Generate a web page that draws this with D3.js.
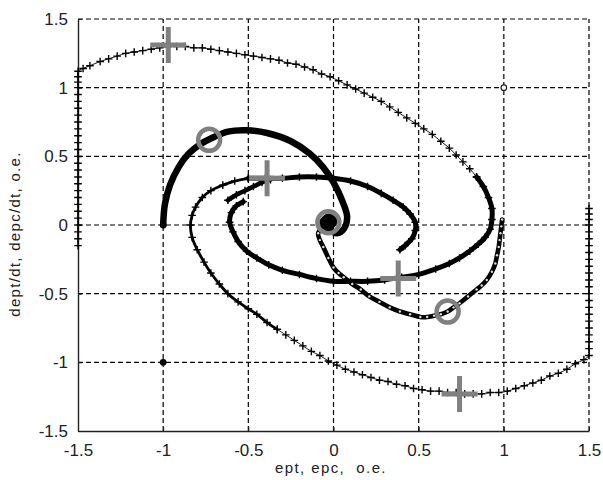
<!DOCTYPE html>
<html>
<head>
<meta charset="utf-8">
<script src="https://cdn.jsdelivr.net/npm/d3@7"></script>
<style>
  body { margin: 0; background: #fff; }
  svg { display: block; font-family: "Liberation Sans", Arial, sans-serif; }
</style>
</head>
<body>
<svg id="graph"></svg>
<script>

// Graduations des axes
const ticksX = [-1.5, -1, -0.5, 0, 0.5, 1, 1.5];
const ticksY = [-1.5, -1, -0.5, 0, 0.5, 1, 1.5];
const labelsX = ["-1.5", "-1", "-0.5", "0", "0.5", "1", "1.5"];
const labelsY = ["-1.5", "-1", "-0.5", "0", "0.5", "1", "1.5"];

// Trajectoire "+" partant du bord gauche (partie extérieure, peu dense)
const plusC_ext = [
  [-1.5, -0.15], [-1.5, -0.1], [-1.5, -0.05], [-1.5, 0], [-1.5, 0.05], [-1.5, 0.1], [-1.5, 0.15],
  [-1.5, 0.2], [-1.5, 0.25], [-1.5, 0.3], [-1.5, 0.35], [-1.5, 0.4], [-1.5, 0.45], [-1.5, 0.5],
  [-1.5, 0.55], [-1.5, 0.6], [-1.5, 0.65], [-1.5, 0.7], [-1.5, 0.75], [-1.5, 0.8], [-1.5, 0.85],
  [-1.5, 0.9], [-1.5, 0.95], [-1.5, 1.0], [-1.5, 1.04], [-1.5, 1.08], [-1.5, 1.12],
  [-1.47, 1.14], [-1.43, 1.16], [-1.37, 1.19], [-1.32, 1.21], [-1.27, 1.23], [-1.22, 1.25],
  [-1.17, 1.26], [-1.12, 1.27], [-1.07, 1.28], [-1.02, 1.29], [-0.97, 1.3], [-0.92, 1.3],
  [-0.87, 1.3], [-0.82, 1.29], [-0.77, 1.29], [-0.72, 1.28], [-0.67, 1.27], [-0.62, 1.26],
  [-0.57, 1.25], [-0.52, 1.24], [-0.47, 1.23], [-0.42, 1.22], [-0.37, 1.21], [-0.32, 1.2],
  [-0.27, 1.18], [-0.22, 1.17], [-0.17, 1.15], [-0.12, 1.13], [-0.07, 1.1], [-0.02, 1.08],
  [0.03, 1.05], [0.08, 1.02], [0.13, 0.99], [0.18, 0.96], [0.23, 0.93], [0.28, 0.9],
  [0.33, 0.86], [0.38, 0.82], [0.43, 0.78], [0.48, 0.74], [0.53, 0.7], [0.58, 0.66],
  [0.63, 0.61], [0.68, 0.56], [0.72, 0.51], [0.76, 0.46], [0.8, 0.41], [0.84, 0.35]
];

// Suite de la même trajectoire (partie intérieure, dense)
const plusC_int = [
  [0.84, 0.35], [0.88, 0.28], [0.91, 0.2], [0.93, 0.12], [0.93, 0.04], [0.92, -0.03],
  [0.89, -0.09], [0.85, -0.14], [0.8, -0.19], [0.74, -0.24], [0.68, -0.28], [0.6, -0.32],
  [0.5, -0.36], [0.4, -0.38], [0.3, -0.4], [0.2, -0.41], [0.1, -0.41], [0, -0.41],
  [-0.1, -0.39], [-0.2, -0.36], [-0.3, -0.33], [-0.38, -0.29], [-0.45, -0.24], [-0.51, -0.19],
  [-0.56, -0.12], [-0.59, -0.05], [-0.61, 0.02], [-0.6, 0.09], [-0.57, 0.14], [-0.53, 0.17]
];

// Petit morceau isolé
const plusC_bout = [
  [-0.62, 0.18], [-0.57, 0.22], [-0.52, 0.25], [-0.47, 0.28], [-0.42, 0.31], [-0.37, 0.33]
];

// Trajectoire "+" partant du bord droit
const plusD_ext = [
  [1.5, 0.12], [1.5, 0.08], [1.5, 0.04], [1.5, 0], [1.5, -0.05], [1.5, -0.1], [1.5, -0.15],
  [1.5, -0.2], [1.5, -0.25], [1.5, -0.3], [1.5, -0.35], [1.5, -0.4], [1.5, -0.45], [1.5, -0.5],
  [1.5, -0.55], [1.5, -0.6], [1.5, -0.65], [1.5, -0.7], [1.5, -0.75], [1.5, -0.8], [1.5, -0.85],
  [1.5, -0.9], [1.5, -0.95],
  [1.47, -0.98], [1.42, -1.01], [1.37, -1.05], [1.32, -1.08], [1.27, -1.1], [1.22, -1.13],
  [1.17, -1.15], [1.12, -1.17], [1.07, -1.19], [1.02, -1.21], [0.97, -1.22], [0.92, -1.22],
  [0.87, -1.23], [0.82, -1.23], [0.77, -1.23], [0.72, -1.22], [0.67, -1.22], [0.62, -1.21],
  [0.57, -1.21], [0.52, -1.2], [0.47, -1.19], [0.42, -1.17], [0.37, -1.16], [0.32, -1.14],
  [0.27, -1.13], [0.22, -1.11], [0.17, -1.09], [0.12, -1.07], [0.07, -1.05], [0.02, -1.02],
  [-0.03, -0.99], [-0.08, -0.95], [-0.13, -0.92], [-0.18, -0.88], [-0.23, -0.84], [-0.28, -0.8],
  [-0.33, -0.76]
];

const plusD_mil = [
  [-0.33, -0.76], [-0.39, -0.71], [-0.45, -0.65], [-0.5, -0.61], [-0.56, -0.56], [-0.62, -0.5],
  [-0.67, -0.43], [-0.72, -0.35], [-0.76, -0.27], [-0.8, -0.18], [-0.83, -0.09], [-0.84, 0],
  [-0.83, 0.07], [-0.81, 0.13], [-0.77, 0.2], [-0.72, 0.25], [-0.65, 0.29], [-0.58, 0.32],
  [-0.5, 0.34]
];

const plusD_int = [
  [-0.5, 0.34], [-0.4, 0.34], [-0.3, 0.34], [-0.2, 0.35], [-0.1, 0.35], [0, 0.34],
  [0.1, 0.32], [0.2, 0.28], [0.28, 0.23], [0.35, 0.18], [0.41, 0.13], [0.45, 0.08],
  [0.48, 0.02], [0.48, -0.04], [0.46, -0.1], [0.42, -0.15], [0.39, -0.18]
];

// Trajectoires "o"
const rondA = [
  [0.99, 0.04], [0.985, -0.01], [0.98, -0.06], [0.975, -0.11], [0.97, -0.16], [0.96, -0.22],
  [0.95, -0.28], [0.93, -0.34], [0.9, -0.4], [0.87, -0.44], [0.84, -0.47], [0.79, -0.52],
  [0.74, -0.57], [0.705, -0.6], [0.67, -0.63], [0.63, -0.65], [0.59, -0.66], [0.55, -0.67],
  [0.51, -0.67], [0.45, -0.65], [0.39, -0.63], [0.33, -0.6], [0.27, -0.56], [0.21, -0.52],
  [0.16, -0.47], [0.11, -0.43], [0.06, -0.38], [0.03, -0.35], [0, -0.31], [-0.03, -0.24],
  [-0.06, -0.16], [-0.08, -0.11], [-0.09, -0.06], [-0.05, 0]
];

// La seconde s'enroule au centre (tache noire)
const rondB = [
  [-1, 0], [-0.99, 0.15], [-0.96, 0.29], [-0.91, 0.42], [-0.85, 0.52], [-0.78, 0.59],
  [-0.72, 0.63], [-0.62, 0.68], [-0.51, 0.69], [-0.39, 0.67], [-0.25, 0.61], [-0.14, 0.52],
  [-0.06, 0.42], [0, 0.31], [0.05, 0.18], [0.08, 0.06], [0.06, -0.03], [0.02, -0.06],
  [-0.03, -0.03], [-0.065, 0.02], [-0.03, 0.06], [0.005, 0.03], [-0.02, -0.01],
  [-0.05, 0.02], [-0.025, 0.045], [-0.01, 0.02]
];

// Points isolés
const isolesCreux = [[1, 1]];
const isolesPleins = [[-1, -1], [-1, 0]];

// Grands repères gris
const grandesCroix = [[-0.97, 1.31], [-0.39, 0.34], [0.38, -0.39], [0.74, -1.23]];
const grandsCercles = [[-0.73, 0.62], [-0.03, 0.02], [0.67, -0.63]];

// Dimensions
const largeur = 603;
const hauteur = 480;
const gauche = 78, droite = 589, haut = 19, bas = 431;

const svg = d3.select('#graph')
  .attr("width", largeur)
  .attr("height", hauteur);

svg.append("rect").attr("width", largeur).attr("height", hauteur).attr("fill", "#fff");

const x = d3.scaleLinear().domain([-1.5, 1.5]).range([gauche, droite]);
const y = d3.scaleLinear().domain([-1.5, 1.5]).range([bas, haut]);

// Grille en pointillés
const grille = svg.append("g")
  .attr("stroke", "#000")
  .attr("stroke-width", 1.2)
  .attr("stroke-dasharray", "5,3");

grille.selectAll(".gx")
  .data(ticksX.slice(1))
  .enter().append("line")
  .attr("x1", d => x(d)).attr("x2", d => x(d))
  .attr("y1", y(-1.5)).attr("y2", y(1.5));

grille.selectAll(".gy")
  .data(ticksY.slice(1))
  .enter().append("line")
  .attr("y1", d => y(d)).attr("y2", d => y(d))
  .attr("x1", x(-1.5)).attr("x2", x(1.5));

// Axes
const axeX = d3.axisBottom(x)
  .tickValues(ticksX)
  .tickFormat((d, i) => labelsX[i])
  .tickSizeInner(-4)
  .tickSizeOuter(0)
  .tickPadding(13);

const axeY = d3.axisLeft(y)
  .tickValues(ticksY)
  .tickFormat((d, i) => labelsY[i])
  .tickSizeInner(-4)
  .tickSizeOuter(0)
  .tickPadding(10);

const gX = svg.append("g").attr("transform", `translate(0,${bas})`).call(axeX);
const gY = svg.append("g").attr("transform", `translate(${gauche},0)`).call(axeY);

[gX, gY].forEach(g => {
  g.select(".domain").attr("stroke", "#222").attr("stroke-width", 1.4);
  g.selectAll(".tick line").attr("stroke", "#222");
  g.selectAll(".tick text")
    .attr("fill", "#222")
    .attr("font-size", 17)
    .attr("font-family", '"Liberation Sans", Arial, sans-serif');
});

// Titres des axes
svg.append("text")
  .attr("x", 331)
  .attr("y", 473)
  .attr("text-anchor", "middle")
  .attr("font-size", 15)
  .attr("letter-spacing", 1.4)
  .attr("fill", "#222")
  .style("white-space", "pre")
  .text("ept, epc,  o.e.");

svg.append("text")
  .attr("transform", "translate(20,234) rotate(-90)")
  .attr("text-anchor", "middle")
  .attr("font-size", 15)
  .attr("letter-spacing", 1.3)
  .attr("fill", "#222")
  .text("dept/dt, depc/dt, o.e.");

// Tracé des trajectoires
const ligne = d3.line()
  .x(d => x(d[0]))
  .y(d => y(d[1]))
  .curve(d3.curveCatmullRom);

const series = [
  { points: plusC_ext, marque: "+", epaisseur: 0.9 },
  { points: plusD_ext, marque: "+", epaisseur: 0.9 },
  { points: plusD_mil, marque: "+", epaisseur: 2.8 },
  { points: plusC_int, marque: "+", epaisseur: 5 },
  { points: plusC_bout, marque: "+", epaisseur: 4.5 },
  { points: plusD_int, marque: "+", epaisseur: 5 },
  { points: rondA, marque: "o", epaisseur: 4.6 },
  { points: rondB, marque: "O", epaisseur: 6.5 }
];

const croix = "M-3.8,0H3.8M0,-3.8V3.8";

series.forEach(s => {
  svg.append("path")
    .datum(s.points)
    .attr("d", ligne)
    .attr("fill", "none")
    .attr("stroke", "#000")
    .attr("stroke-width", s.epaisseur)
    .attr("stroke-linecap", "round")
    .attr("stroke-linejoin", "round");

  if (s.marque === "+") {
    svg.append("g").selectAll("path")
      .data(s.points)
      .enter().append("path")
      .attr("d", croix)
      .attr("transform", d => `translate(${x(d[0])},${y(d[1])})`)
      .attr("stroke", "#000")
      .attr("stroke-width", 1.4);
  } else if (s.marque === "o") {
    svg.append("g").selectAll("circle")
      .data(s.points)
      .enter().append("circle")
      .attr("cx", d => x(d[0]))
      .attr("cy", d => y(d[1]))
      .attr("r", 1.2)
      .attr("fill", "#ddd");
  }
});

// Points isolés
svg.selectAll(".creux")
  .data(isolesCreux)
  .enter().append("circle")
  .attr("cx", d => x(d[0]))
  .attr("cy", d => y(d[1]))
  .attr("r", 2.8)
  .attr("fill", "#fff")
  .attr("stroke", "#222")
  .attr("stroke-width", 1.2);

svg.selectAll(".plein")
  .data(isolesPleins)
  .enter().append("circle")
  .attr("cx", d => x(d[0]))
  .attr("cy", d => y(d[1]))
  .attr("r", 3.4)
  .attr("fill", "#000");

// Grands repères gris
svg.append("g").selectAll("path")
  .data(grandesCroix)
  .enter().append("path")
  .attr("d", "M-18,0H18M0,-18V18")
  .attr("transform", d => `translate(${x(d[0])},${y(d[1])})`)
  .attr("stroke", "#808080")
  .attr("stroke-width", 5)
  .attr("fill", "none");

svg.append("g").selectAll("circle")
  .data(grandsCercles)
  .enter().append("circle")
  .attr("cx", d => x(d[0]))
  .attr("cy", d => y(d[1]))
  .attr("r", 11)
  .attr("stroke", "#808080")
  .attr("stroke-width", 4.5)
  .attr("fill", "none");

</script>
</body>
</html>
